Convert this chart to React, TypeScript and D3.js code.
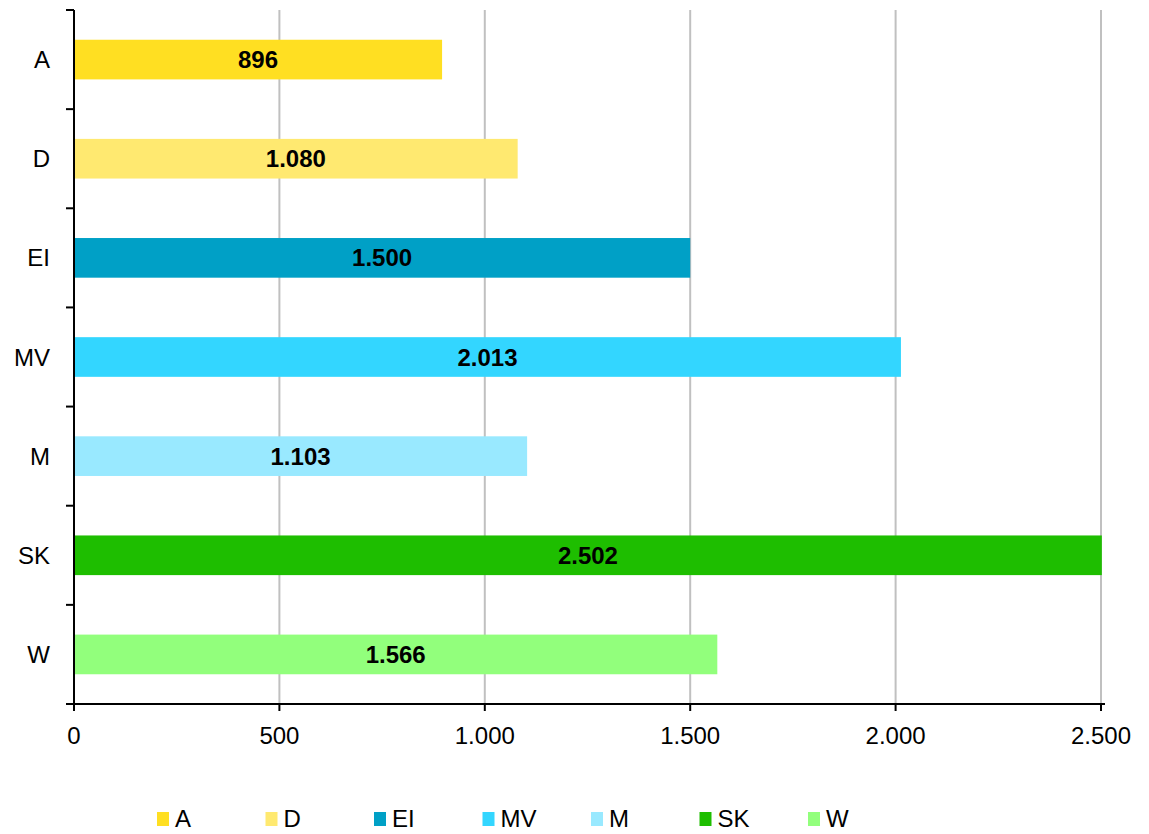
import { useEffect, useRef } from 'react';
import * as d3 from 'd3';

const categories = ['A', 'D', 'EI', 'MV', 'M', 'SK', 'W'];
const values = [896, 1080, 1500, 2013, 1103, 2502, 1566];
const colors = ['#FFDF22', '#FFE970', '#00A0C6', '#33D6FF', '#99E9FF', '#1EBE00', '#92FF7C'];
const xTicks = [0, 500, 1000, 1500, 2000, 2500];

const de = d3.formatLocale({ decimal: ',', thousands: '.', grouping: [3], currency: ['', '€'] });
const fmt = de.format(',.0f');

const App = () => {
  const chartRef = useRef(null);

  useEffect(() => {
    d3.select(chartRef.current).selectAll('svg').remove();
    const width = 1149;
    const height = 834;
    const margin = { top: 10, left: 74, right: 48, bottom: 130 };
    const font = 'Liberation Sans, Arial, sans-serif';
    const fs = 24;

    const svg = d3.select(chartRef.current)
      .append('svg')
      .attr('width', width)
      .attr('height', height)
      .style('display', 'block')
      .style('position', 'absolute')
      .style('left', 0)
      .style('top', 0);

    const x = d3.scaleLinear()
      .domain([0, 2500])
      .range([margin.left, width - margin.right]);

    const y = d3.scaleBand()
      .domain(categories)
      .range([margin.top, height - margin.bottom])
      .paddingInner(0.6)
      .paddingOuter(0.3);

    const yTop = margin.top;
    const yBottom = height - margin.bottom;

    // gridlines
    svg.append('g')
      .selectAll('line')
      .data(xTicks.slice(1))
      .enter()
      .append('line')
      .attr('x1', d => x(d))
      .attr('x2', d => x(d))
      .attr('y1', yTop)
      .attr('y2', yBottom)
      .attr('stroke', '#c0c0c0')
      .attr('stroke-width', 2);

    // bars
    svg.append('g')
      .selectAll('rect')
      .data(values)
      .enter()
      .append('rect')
      .attr('x', x(0) + 1)
      .attr('y', (d, i) => y(categories[i]))
      .attr('width', d => x(d) - x(0) - 1)
      .attr('height', y.bandwidth())
      .attr('fill', (d, i) => colors[i]);

    // value labels
    svg.append('g')
      .selectAll('text')
      .data(values)
      .enter()
      .append('text')
      .attr('x', d => (x(0) + x(d)) / 2)
      .attr('y', (d, i) => y(categories[i]) + y.bandwidth() / 2)
      .attr('dy', '0.36em')
      .attr('text-anchor', 'middle')
      .attr('font-family', font)
      .attr('font-weight', 'bold')
      .attr('font-size', fs)
      .attr('fill', '#000')
      .text(d => fmt(d));

    // y axis
    const step = (yBottom - yTop) / categories.length;
    const yAxis = svg.append('g');
    yAxis.append('line')
      .attr('x1', x(0)).attr('x2', x(0))
      .attr('y1', yTop).attr('y2', yBottom + 4)
      .attr('stroke', '#000').attr('stroke-width', 2);
    yAxis.selectAll('.ytick')
      .data(d3.range(categories.length + 1))
      .enter()
      .append('line')
      .attr('class', 'ytick')
      .attr('x1', x(0) - 8).attr('x2', x(0))
      .attr('y1', i => yTop + i * step).attr('y2', i => yTop + i * step)
      .attr('stroke', '#000').attr('stroke-width', 2);
    yAxis.selectAll('text')
      .data(categories)
      .enter()
      .append('text')
      .attr('x', 50)
      .attr('y', d => y(d) + y.bandwidth() / 2)
      .attr('dy', '0.36em')
      .attr('text-anchor', 'end')
      .attr('font-family', font)
      .attr('font-size', fs)
      .attr('fill', '#000')
      .text(d => d);

    // x axis
    const xAxis = svg.append('g');
    xAxis.append('line')
      .attr('x1', x(0) - 8).attr('x2', x(2500) + 4)
      .attr('y1', yBottom).attr('y2', yBottom)
      .attr('stroke', '#000').attr('stroke-width', 2);
    xAxis.selectAll('.xtick')
      .data(xTicks)
      .enter()
      .append('line')
      .attr('class', 'xtick')
      .attr('x1', d => x(d)).attr('x2', d => x(d))
      .attr('y1', yBottom).attr('y2', yBottom + 7)
      .attr('stroke', '#000').attr('stroke-width', 2);
    xAxis.selectAll('text')
      .data(xTicks)
      .enter()
      .append('text')
      .attr('x', d => x(d))
      .attr('y', yBottom + 31)
      .attr('dy', '0.36em')
      .attr('text-anchor', 'middle')
      .attr('font-family', font)
      .attr('font-size', fs)
      .attr('fill', '#000')
      .text(d => fmt(d));

    // legend
    const lx = d3.scalePoint().domain(categories).range([157, 808]);
    const legend = svg.append('g')
      .selectAll('g')
      .data(categories)
      .enter()
      .append('g')
      .attr('transform', d => `translate(${lx(d)},818)`);
    legend.append('rect')
      .attr('x', 0).attr('y', -6)
      .attr('width', 12).attr('height', 14)
      .attr('fill', (d, i) => colors[i]);
    legend.append('text')
      .attr('x', 18)
      .attr('y', 0)
      .attr('dy', '0.36em')
      .attr('font-family', font)
      .attr('font-size', fs)
      .attr('fill', '#000')
      .text(d => d);
  }, []);

  return (
    <div>
      <div ref={chartRef}></div>
    </div>
  );
};

export default App;
